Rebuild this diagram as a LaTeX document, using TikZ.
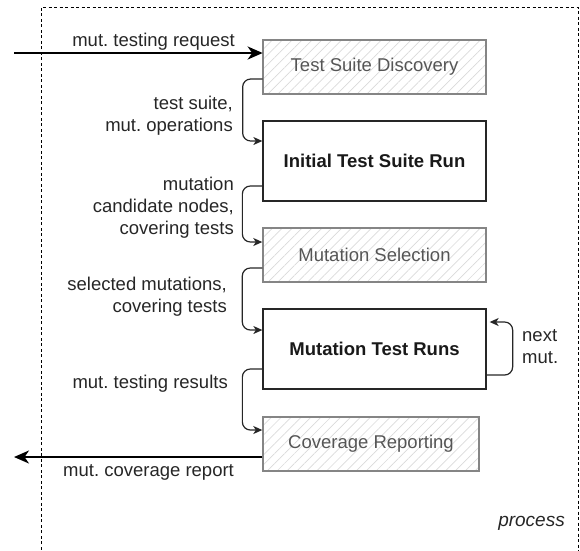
\documentclass[tikz,border=0pt]{standalone}
\usepackage{fontspec}
\setmainfont{Liberation Sans}
\usetikzlibrary{arrows.meta,patterns.meta}
\definecolor{boxgray}{HTML}{858585}
\definecolor{txtgray}{HTML}{555555}
\definecolor{hatch}{HTML}{DADADA}
\tikzset{
  lbl/.style={font=\fontsize{18.5}{22}\selectfont, text=black!85, inner sep=0pt},
  graybox/.style={draw=boxgray, line width=1.4pt, minimum height=54pt, inner sep=0pt,
    pattern={Lines[angle=45,distance=7pt,line width=0.7pt]}, pattern color=hatch,
    font=\fontsize{18.5}{22}\selectfont, text=txtgray},
  whitebox/.style={draw=black!85, line width=1.3pt, minimum height=80pt, minimum width=223pt, inner sep=0pt,
    fill=white, font=\fontsize{18.5}{22}\selectfont\bfseries, text=black!90},
  flow/.style={draw=black!85, line width=1.2pt, rounded corners=8pt,
    -{Stealth[length=9pt,width=8pt,inset=2.5pt]}},
  mainflow/.style={draw=black, line width=2.2pt,
    -{Stealth[length=15pt,width=13pt,inset=4.5pt]}},
  frame/.style={draw=black, line width=1pt, dash pattern=on 3pt off 2.5pt}
}
\begin{document}
\frenchspacing
\begin{tikzpicture}[x=1pt,y=-1pt]
\useasboundingbox (0,0) rectangle (580,550);
\draw[frame] (41,555) -- (41,7) -- (578,7) -- (578,555);

\node[graybox, minimum width=223pt] (tsd) at (374.5,67) {Test Suite Discovery};
\node[whitebox] (itr) at (374.5,161) {Initial Test Suite Run};
\node[graybox, minimum width=223pt] (ms) at (374.5,255) {Mutation Selection};
\node[whitebox] (mtr) at (374.5,349) {Mutation Test Runs};
\node[graybox, minimum width=216pt] (cr) at (371,444) {Coverage Reporting};

\coordinate (in) at (14,53);
\coordinate (out) at (14,457);

\draw[mainflow] (in) -- ([yshift=14pt]tsd.west);
\draw[mainflow] ([yshift=-13pt]cr.west) -- (out);

\draw[flow] ([yshift=-12pt]tsd.west) -- ++(-20,0) |- ([yshift=20pt]itr.west);
\draw[flow] ([yshift=-25pt]itr.west) -- ++(-20,0) |- ([yshift=13pt]ms.west);
\draw[flow] ([yshift=-13pt]ms.west) -- ++(-20,0) |- ([yshift=19pt]mtr.west);
\draw[flow] ([yshift=-20pt]mtr.west) -- ++(-20,0) |- ([yshift=14pt]cr.west);
\draw[flow] ([yshift=-26pt]mtr.east) -- ++(26,0) |- ([xshift=3pt,yshift=27pt]mtr.east);

\node[lbl, anchor=east] (l1) at (235,42) {mut. testing request};
\node[lbl, anchor=east, align=right] (l2) at (233,116) {test suite,\\mut. operations};
\node[lbl, anchor=east, align=right] (l3) at (234,208) {mutation\\candidate nodes,\\covering tests};
\node[lbl, anchor=east, align=right] (l4) at (227,297) {selected mutations,\\covering tests};
\node[lbl, anchor=east] (l5) at (228,384) {mut. testing results};
\node[lbl, anchor=west] (l6) at (63,472) {mut. coverage report};
\node[lbl, anchor=west, align=left] (l7) at (522,347) {next\\mut.};
\node[lbl, anchor=east, font=\fontsize{19}{22}\selectfont\itshape] (l8) at (565,523) {process};
\end{tikzpicture}
\end{document}
